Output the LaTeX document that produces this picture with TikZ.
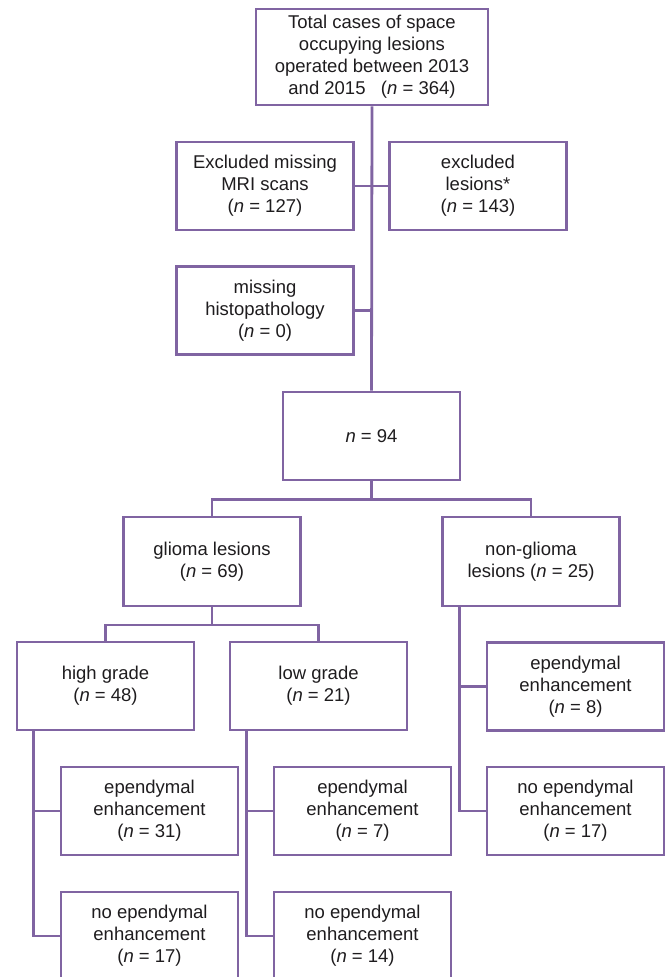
\documentclass[tikz,border=0pt]{standalone}
\usepackage{fontspec}
\setmainfont{Liberation Sans}
\definecolor{boxpurple}{RGB}{128,100,162}
\definecolor{txtgray}{RGB}{30,28,30}
\newcommand{\nn}{\textit{n}}

\begin{document}
\begin{tikzpicture}[x=1pt,y=-1pt,
    box/.style={draw=boxpurple,line width=2.8pt,minimum width=177pt,minimum height=88pt,
        align=center,text=txtgray,font=\fontsize{18.5}{22}\selectfont,inner sep=2pt},
    link/.style={draw=boxpurple,line width=2.8pt}]
            \useasboundingbox (0,0) rectangle (665,977);
            % top part
            \node[box,minimum width=232pt,minimum height=96pt] (total) at (372,57)
                {Total cases of space\\occupying lesions\\operated between 2013\\and 2015\ \ \ (\nn{} = 364)};
            \node[box] (mri) at (265,186) {Excluded missing\\MRI scans\\(\nn{} = 127)};
            \node[box] (excl) at (478,186) {excluded\\lesions*\\(\nn{} = 143)};
            \node[box] (histo) at (265,310.5) {missing\\histopathology\\(\nn{} = 0)};
            \node[box] (all) at (371.5,436) {\nn{} = 94};
            % second level
            \node[box,minimum height=89pt] (glioma) at (212,561.5) {glioma lesions\\(\nn{} = 69)};
            \node[box,minimum height=89pt] (nonglioma) at (531,561.5) {non-glioma\\lesions (\nn{} = 25)};
            \node[box] (high) at (105.5,686) {high grade\\(\nn{} = 48)};
            \node[box] (low) at (318.5,686) {low grade\\(\nn{} = 21)};
            \node[box] (ngyes) at (575.5,686.5) {ependymal\\enhancement\\(\nn{} = 8)};
            % enhancement boxes
            \node[box] (highyes) at (149.5,811) {ependymal\\enhancement\\(\nn{} = 31)};
            \node[box] (lowyes) at (362.5,811) {ependymal\\enhancement\\(\nn{} = 7)};
            \node[box] (ngno) at (575.5,811) {no ependymal\\enhancement\\(\nn{} = 17)};
            \node[box] (highno) at (149.5,936) {no ependymal\\enhancement\\(\nn{} = 17)};
            \node[box] (lowno) at (362.5,936) {no ependymal\\enhancement\\(\nn{} = 14)};
            % connectors
            \draw[link] (total.south) -- (all.north);
            \draw[link] (mri.east) -- (excl.west);
            \draw[link] (histo.east) -- (histo.east -| all.north);
            \draw[link] (all.south) -- ++(0,18) -| (glioma.north);
            \draw[link] (all.south) -- ++(0,18) -| (nonglioma.north);
            \draw[link] (glioma.south) -- ++(0,17.5) -| (high.north);
            \draw[link] (glioma.south) -- ++(0,17.5) -| (low.north);
            \foreach \a/\b/\c in {high/highyes/highno,low/lowyes/lowno,nonglioma/ngyes/ngno}{
                \draw[link] ([xshift=18pt]\a.south west) |- (\b.west);
                \draw[link] ([xshift=18pt]\a.south west) |- (\c.west);
            }
        \end{tikzpicture}
\end{document}
